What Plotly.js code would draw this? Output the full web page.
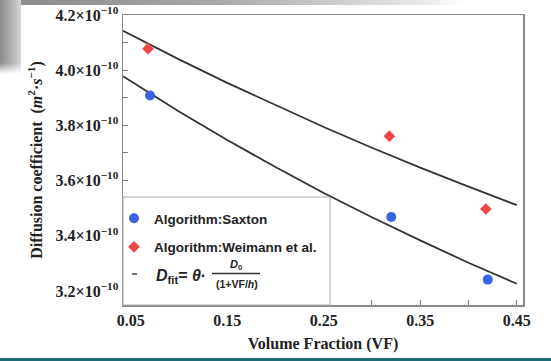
<!DOCTYPE html>
<html>
<head>
<meta charset="utf-8">
<script src="https://cdn.plot.ly/plotly-3.0.1.min.js"></script>
<style>
  html, body { margin: 0; padding: 0; background: #fff; }
  #wrap { position: relative; width: 551px; height: 361px; overflow: hidden; background: #fff; }
  #topband { position: absolute; left: 0; top: 0; width: 551px; height: 5px;
    background: linear-gradient(to right, #8a8a8a 0%, #a8a8a8 40%, #e6e6e6 75%, #ffffff 85%); }
  #leftband { position: absolute; left: 0; top: 0; width: 21px; height: 74px;
    background: linear-gradient(to right, #8c8c8c 0%, #b4b4b4 60%, #d8d8d8 100%);
    -webkit-mask-image: linear-gradient(to bottom, #000 85%, transparent 100%);
    mask-image: linear-gradient(to bottom, #000 85%, transparent 100%); }
  #teal { position: absolute; left: 0; top: 358px; width: 551px; height: 3px; background: #1f6b74; }
  #chart { position: absolute; left: 0; top: 0; width: 551px; height: 361px; }
</style>
</head>
<body>
<div id="wrap">
  <div id="topband"></div>
  <div id="leftband"></div>
  <div id="teal"></div>
  <div id="chart"></div>
</div>
<script>
// ---- data ----
const saxtonVF = [0.07, 0.32, 0.42];
const saxtonD  = [3.908e-10, 3.468e-10, 3.241e-10];

const weimannVF = [0.068, 0.318, 0.418];
const weimannD  = [4.078e-10, 3.761e-10, 3.497e-10];

// fitted curves
const fitVF      = [0.042, 0.10, 0.15, 0.20, 0.25, 0.30, 0.35, 0.40, 0.45];
const fitUpperD  = [4.143e-10, 4.039e-10, 3.954e-10, 3.873e-10, 3.794e-10, 3.719e-10, 3.647e-10, 3.578e-10, 3.511e-10];
const fitLowerD  = [3.978e-10, 3.850e-10, 3.747e-10, 3.649e-10, 3.555e-10, 3.467e-10, 3.383e-10, 3.302e-10, 3.226e-10];

const xTickVals = [0.05, 0.15, 0.25, 0.35, 0.45];
const xTickText = ['0.05', '0.15', '0.25', '0.35', '0.45'];
const yTickVals = [3.2e-10, 3.4e-10, 3.6e-10, 3.8e-10, 4.0e-10, 4.2e-10];
const yTickText = ['3.2×10<sup>−10</sup>', '3.4×10<sup>−10</sup>', '3.6×10<sup>−10</sup>',
                   '3.8×10<sup>−10</sup>', '4.0×10<sup>−10</sup>', '4.2×10<sup>−10</sup>'];

const legendNames = ['<b>Algorithm:Saxton</b>', '<b>Algorithm:Weimann et al.</b>'];

// ---- layout helpers (pixel -> paper) ----
const L = 123, R = 28, T = 15, B = 56, W = 551, H = 361;
const pw = W - L - R, ph = H - T - B;
const px = v => (v - L) / pw;
const py = v => (H - B - v) / ph;

const serif = 'Liberation Serif, Times New Roman, serif';
const sans = 'Liberation Sans, Arial, sans-serif';

const traces = [
  { x: fitVF, y: fitUpperD, mode: 'lines', line: { color: '#333', width: 1.8 }, showlegend: false, hoverinfo: 'skip' },
  { x: fitVF, y: fitLowerD, mode: 'lines', line: { color: '#333', width: 1.8 }, showlegend: false, hoverinfo: 'skip' },
  { x: saxtonVF, y: saxtonD, mode: 'markers', name: legendNames[0], legendgroup: 'a',
    marker: { symbol: 'circle', size: 10, color: '#3a62e4' } },
  { x: weimannVF, y: weimannD, mode: 'markers', name: legendNames[1], legendgroup: 'b',
    marker: { symbol: 'diamond', size: 9, color: '#f24646' } }
];

const axisCommon = {
  showgrid: false, zeroline: false,
  showline: true, linecolor: '#8a8a8a', linewidth: 1.5, mirror: true,
  ticks: 'inside', ticklen: 5, tickcolor: '#777', tickwidth: 1,
  tickfont: { family: serif, size: 16, color: '#222', weight: 'bold' }
};

const layout = {
  width: W, height: H,
  margin: { l: L, r: R, t: T, b: B, pad: 0 },
  paper_bgcolor: 'rgba(0,0,0,0)',
  plot_bgcolor: '#ffffff',
  showlegend: true,
  xaxis: Object.assign({}, axisCommon, {
    range: [0.042, 0.4565],
    tickmode: 'array', tickvals: xTickVals, ticktext: xTickText,
    minor: { ticks: 'inside', ticklen: 5, tickcolor: '#777', tickwidth: 1, dtick: 0.05, tick0: 0, showgrid: false },
    title: { text: '<b>Volume Fraction (VF)</b>', font: { family: serif, size: 16, color: '#222' }, standoff: 10 }
  }),
  yaxis: Object.assign({}, axisCommon, {
    range: [3.149e-10, 4.2e-10],
    tickmode: 'array', tickvals: yTickVals, ticktext: yTickText,
    minor: { ticks: 'inside', ticklen: 5, tickcolor: '#777', tickwidth: 1, dtick: 0.1e-10, tick0: 0, showgrid: false },
    title: { text: '<b>Diffusion coefficient  (<i>m</i><sup>2</sup>·<i>s</i><sup>−1</sup>)</b>',
             font: { family: serif, size: 16, color: '#222' }, standoff: 9 }
  }),
  legend: {
    x: px(114), y: py(203), xanchor: 'left', yanchor: 'top',
    bgcolor: 'rgba(0,0,0,0)', borderwidth: 0,
    font: { family: sans, size: 13.5, color: '#222' },
    traceorder: 'grouped', tracegroupgap: 8
  },
  shapes: [
    { type: 'rect', xref: 'paper', yref: 'paper', x0: 0, x1: px(330), y0: 0, y1: py(197),
      fillcolor: '#ffffff', line: { color: '#aaaaaa', width: 1 }, layer: 'above' },
    { type: 'line', xref: 'paper', yref: 'paper', x0: px(132), x1: px(137), y0: py(274), y1: py(274),
      line: { color: '#444', width: 1.5 }, layer: 'above' },
    { type: 'line', xref: 'paper', yref: 'paper', x0: px(212), x1: px(260), y0: py(273.5), y1: py(273.5),
      line: { color: '#333', width: 1.6 }, layer: 'above' }
  ],
  annotations: [
    { xref: 'paper', yref: 'paper', x: px(154), y: py(276), xanchor: 'left', yanchor: 'middle',
      text: '<b><i>D</i><sub>fit</sub>= <i>θ</i>·</b>', showarrow: false,
      font: { family: sans, size: 16, color: '#222' } },
    { xref: 'paper', yref: 'paper', x: px(236), y: py(265), xanchor: 'center', yanchor: 'middle',
      text: '<b><i>D</i><sub>0</sub></b>', showarrow: false,
      font: { family: sans, size: 11, color: '#222' } },
    { xref: 'paper', yref: 'paper', x: px(236.5), y: py(284), xanchor: 'center', yanchor: 'middle',
      text: '<b>(1+VF/<i>h</i>)</b>', showarrow: false,
      font: { family: sans, size: 10.5, color: '#222' } }
  ]
};

Plotly.newPlot('chart', traces, layout, { displayModeBar: false, staticPlot: true });
</script>
</body>
</html>
